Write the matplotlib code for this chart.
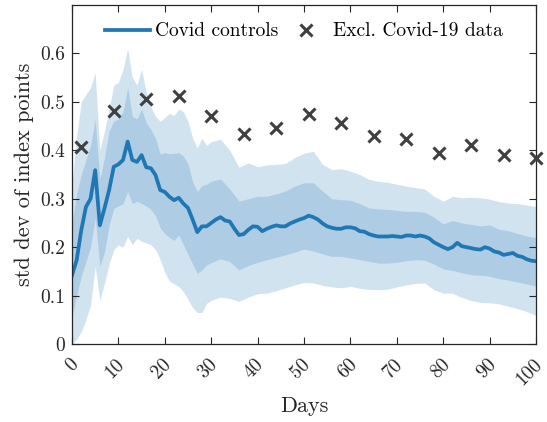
import numpy as np
import matplotlib
matplotlib.use('Agg')
import matplotlib.pyplot as plt
import matplotlib.transforms as mtransforms

plt.rcParams['font.family'] = 'serif'
plt.rcParams['font.serif'] = ['cmr10', 'DejaVu Serif']
plt.rcParams['axes.formatter.use_mathtext'] = True
plt.rcParams['mathtext.fontset'] = 'cm'

# daily std dev of the covid control group
days = np.arange(0, 101)
controls = [
    0.142, 0.173, 0.235, 0.283, 0.300, 0.359, 0.245, 0.280, 0.318, 0.366,
    0.371, 0.380, 0.418, 0.380, 0.376, 0.390, 0.365, 0.363, 0.349, 0.318,
    0.314, 0.304, 0.297, 0.302, 0.290, 0.281, 0.257, 0.231, 0.243, 0.243,
    0.250, 0.257, 0.262, 0.255, 0.253, 0.238, 0.225, 0.227, 0.236, 0.243,
    0.242, 0.233, 0.238, 0.242, 0.245, 0.243, 0.243, 0.249, 0.253, 0.257,
    0.260, 0.265, 0.262, 0.257, 0.249, 0.243, 0.240, 0.238, 0.238, 0.241,
    0.241, 0.239, 0.233, 0.232, 0.227, 0.224, 0.222, 0.222, 0.222, 0.223,
    0.222, 0.221, 0.224, 0.224, 0.222, 0.224, 0.222, 0.218, 0.210, 0.205,
    0.200, 0.196, 0.200, 0.209, 0.202, 0.200, 0.198, 0.196, 0.195, 0.200,
    0.197, 0.191, 0.189, 0.184, 0.186, 0.188, 0.182, 0.180, 0.175, 0.172,
    0.171,
]

# percentile bands (outer = wide, inner = narrow)
band_days = list(range(0, 31)) + list(range(32, 101, 2))
outer_hi = [
    0.33, 0.43, 0.50, 0.515, 0.53, 0.56, 0.40, 0.44, 0.485, 0.535,
    0.54, 0.567, 0.61, 0.55, 0.535, 0.567, 0.52, 0.49, 0.47, 0.46,
    0.468, 0.476, 0.472, 0.485, 0.48, 0.46, 0.425, 0.405, 0.425, 0.41,
    0.418,
    0.423, 0.40, 0.365, 0.374, 0.366, 0.37, 0.371, 0.373, 0.385, 0.394,
    0.398, 0.371, 0.36, 0.362, 0.357, 0.35, 0.34, 0.336, 0.334, 0.33,
    0.326, 0.323, 0.32, 0.305, 0.295, 0.305, 0.302, 0.303, 0.302, 0.299,
    0.294, 0.291, 0.29, 0.287, 0.284,
]
inner_hi = [
    0.25, 0.31, 0.35, 0.38, 0.41, 0.465, 0.34, 0.385, 0.44, 0.46,
    0.465, 0.48, 0.53, 0.47, 0.465, 0.485, 0.457, 0.443, 0.425, 0.392,
    0.395, 0.393, 0.394, 0.395, 0.388, 0.372, 0.335, 0.315, 0.327, 0.33,
    0.336,
    0.341, 0.32, 0.295, 0.30, 0.305, 0.305, 0.31, 0.316, 0.326, 0.333,
    0.333, 0.316, 0.30, 0.298, 0.297, 0.29, 0.281, 0.279, 0.278, 0.276,
    0.274, 0.274, 0.272, 0.262, 0.248, 0.255, 0.25, 0.247, 0.244, 0.246,
    0.237, 0.234, 0.228, 0.223, 0.22,
]
inner_lo = [
    0.057, 0.10, 0.14, 0.17, 0.20, 0.26, 0.16, 0.19, 0.245, 0.28,
    0.285, 0.29, 0.315, 0.29, 0.295, 0.29, 0.285, 0.278, 0.265, 0.24,
    0.228, 0.22, 0.214, 0.225, 0.205, 0.185, 0.165, 0.146, 0.153, 0.163,
    0.168,
    0.176, 0.17, 0.153, 0.162, 0.169, 0.174, 0.179, 0.184, 0.19, 0.196,
    0.192, 0.186, 0.181, 0.181, 0.178, 0.174, 0.171, 0.167, 0.167, 0.169,
    0.172, 0.174, 0.173, 0.165, 0.155, 0.152, 0.147, 0.143, 0.142, 0.14,
    0.135, 0.132, 0.128, 0.124, 0.119,
]
outer_lo = [
    0.0, 0.01, 0.025, 0.05, 0.08, 0.16, 0.09, 0.125, 0.165, 0.195,
    0.205, 0.20, 0.222, 0.205, 0.218, 0.212, 0.209, 0.205, 0.195, 0.175,
    0.148, 0.13, 0.124, 0.119, 0.108, 0.092, 0.075, 0.065, 0.065, 0.084,
    0.09,
    0.097, 0.094, 0.088, 0.097, 0.104, 0.105, 0.11, 0.116, 0.122, 0.127,
    0.126, 0.121, 0.118, 0.116, 0.119, 0.115, 0.113, 0.112, 0.113, 0.118,
    0.122, 0.125, 0.126, 0.112, 0.105, 0.105, 0.096, 0.09, 0.086, 0.085,
    0.083, 0.078, 0.073, 0.067, 0.059,
]

# weekly values with covid-19 data excluded
excl_days = [2, 9, 16, 23, 30, 37, 44, 51, 58, 65, 72, 79, 86, 93, 100]
excl_vals = [0.407, 0.481, 0.505, 0.512, 0.470, 0.434, 0.446, 0.474,
             0.457, 0.429, 0.424, 0.394, 0.411, 0.390, 0.385]

xticks = [0, 10, 20, 30, 40, 50, 60, 70, 80, 90, 100]
yticks = [0, 0.1, 0.2, 0.3, 0.4, 0.5, 0.6]
ytick_labels = ['0', '0.1', '0.2', '0.3', '0.4', '0.5', '0.6']

blue = '#1f77b4'
grey = '#404040'

fig = plt.figure(figsize=(5.47, 4.22), dpi=100)
ax = fig.add_axes([0.1316, 0.1848, 0.8484, 0.8033])

ax.fill_between(band_days, outer_lo, outer_hi, color=blue, alpha=0.2, lw=0)
ax.fill_between(band_days, inner_lo, inner_hi, color=blue, alpha=0.2, lw=0)
ax.plot(days, controls, color=blue, lw=2.7, label='Covid controls')
ax.plot(excl_days, excl_vals, ls='none', marker='x', ms=9, mew=2.2,
        color=grey, label='Excl. Covid-19 data', clip_on=False, zorder=5)

ax.set_xlim(0, 100)
ax.set_ylim(0, 0.7)
ax.set_xticks(xticks)
ax.set_xticklabels([str(t) for t in xticks], rotation=45, ha='right', va='top')
ax.set_yticks(yticks)
ax.set_yticklabels(ytick_labels)
ax.tick_params(direction='in', top=True, right=True, length=5, width=0.8,
               labelsize=14, colors='#262626')
ax.tick_params(axis='x', pad=8)
ax.tick_params(axis='y', pad=5)

# rotated labels sit with their right end a bit past the tick
shift = mtransforms.ScaledTranslation(0.10, 0, fig.dpi_scale_trans)
for lbl in ax.get_xticklabels():
    lbl.set_transform(lbl.get_transform() + shift)

for s in ax.spines.values():
    s.set_color('#262626')
    s.set_linewidth(0.9)

ax.set_xlabel('Days', fontsize=16, color='#262626', labelpad=6)
ax.set_ylabel('std dev of index points', fontsize=16, color='#262626')

ax.legend(loc='upper center', ncol=2, frameon=False, fontsize=14,
          handlelength=2.3, columnspacing=0.3, handletextpad=0.25,
          bbox_to_anchor=(0.5, 1.0))

fig.savefig('out.png', dpi=100)
